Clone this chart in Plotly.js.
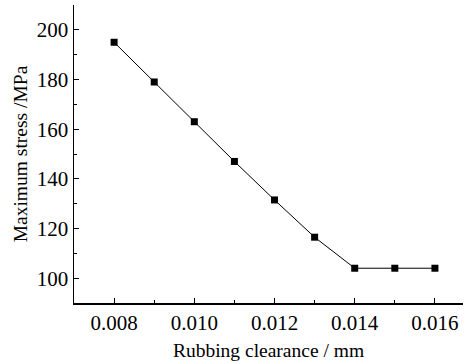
<!DOCTYPE html>
<html>
<head>
<meta charset="utf-8">
<script src="https://cdn.plot.ly/plotly-3.0.1.min.js"></script>
<style>html,body{margin:0;padding:0;background:#fff;}#chart{width:468px;height:364px;}</style>
</head>
<body>
<div id="chart"></div>
<script>
// Rubbing clearance (mm) vs. maximum stress (MPa)
const clearance = [0.008, 0.009, 0.010, 0.011, 0.012, 0.013, 0.014, 0.015, 0.016];
const maxStress = [195, 179, 163, 147, 131.5, 116.5, 104, 104, 104];
const xTickVals = [0.008, 0.010, 0.012, 0.014, 0.016];
const xTickText = ['0.008', '0.010', '0.012', '0.014', '0.016'];
const yTickVals = [100, 120, 140, 160, 180, 200];

const family = 'Liberation Serif, Times New Roman, serif';
const tickFont = {family: family, size: 21, color: '#000'};
const titleFont = {family: family, size: 19.5, color: '#000'};

const trace = {
  x: clearance,
  y: maxStress,
  mode: 'lines+markers',
  type: 'scatter',
  line: {color: '#000', width: 1},
  marker: {symbol: 'square', size: 7, color: '#000'},
  showlegend: false
};

const layout = {
  width: 468, height: 364,
  margin: {l: 74, r: 5, t: 5, b: 61},
  paper_bgcolor: '#fff', plot_bgcolor: '#fff',
  font: tickFont,
  xaxis: {
    range: [0.007, 0.0167],
    tickvals: xTickVals, ticktext: xTickText,
    ticks: 'inside', ticklen: 5, tickwidth: 1, tickcolor: '#000',
    minor: {dtick: 0.001, ticks: 'inside', ticklen: 3, tickcolor: '#000'},
    showline: true, linecolor: '#000', linewidth: 1.5,
    showgrid: false, zeroline: false,
    tickfont: tickFont,
    title: {text: 'Rubbing clearance / mm', font: titleFont, standoff: 9}
  },
  yaxis: {
    range: [90, 210],
    tickvals: yTickVals,
    ticks: 'inside', ticklen: 5, tickwidth: 1, tickcolor: '#000',
    minor: {dtick: 10, ticks: 'inside', ticklen: 3, tickcolor: '#000'},
    showline: true, linecolor: '#000', linewidth: 1.5,
    showgrid: false, zeroline: false,
    tickfont: tickFont,
    title: {text: 'Maximum stress /MPa', font: titleFont, standoff: 4}
  }
};

Plotly.newPlot('chart', [trace], layout, {displayModeBar: false, staticPlot: true});
</script>
</body>
</html>
